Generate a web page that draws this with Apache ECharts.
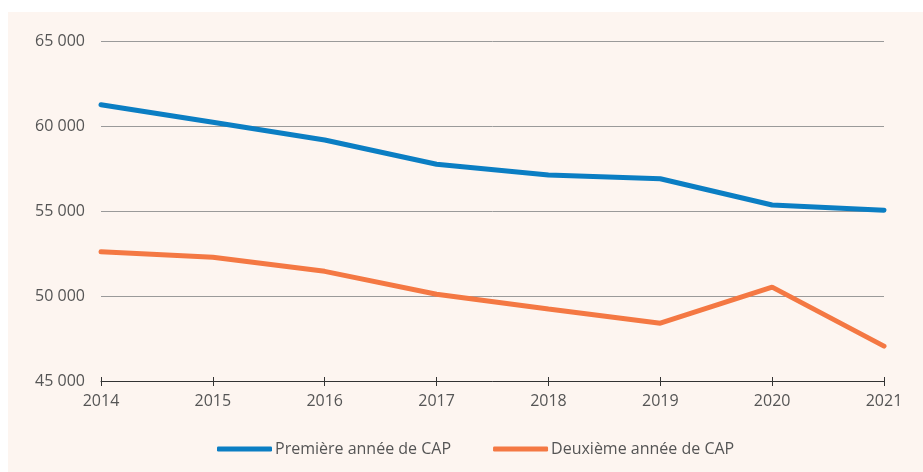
<!DOCTYPE html>
<html>
<head>
<meta charset="utf-8">
<script src="https://cdn.jsdelivr.net/npm/echarts@6/dist/echarts.min.js"></script>
<style>
  html, body { margin: 0; padding: 0; background: #fff; }
  #chart {
    position: absolute;
    left: 8px;
    top: 12px;
    width: 915px;
    height: 460px;
    background: #fdf5f0;
  }
</style>
</head>
<body>
<div id="chart"></div>
<script>
const years = ["2014", "2015", "2016", "2017", "2018", "2019", "2020", "2021"];
const premiereAnnee = [61250, 60220, 59180, 57750, 57120, 56900, 55350, 55050];
const deuxiemeAnnee = [52600, 52280, 51450, 50100, 49230, 48400, 50520, 47050];
const yTicks = [45000, 50000, 55000, 60000, 65000];

const chart = echarts.init(document.getElementById("chart"));
const font = "'Open Sans', sans-serif";

const option = {
  textStyle: { fontFamily: font },
  grid: { left: 93, right: 39, top: 29, bottom: 91 },
  legend: {
    left: 204,
    top: 424,
    icon: "roundRect",
    itemWidth: 55,
    itemHeight: 5,
    itemGap: 42,
    textStyle: { color: "#555", fontSize: 16, fontFamily: font, padding: [0, 0, 0, -2] },
    data: ["Première année de CAP", "Deuxième année de CAP"],
  },
  xAxis: [
    {
      type: "category",
      data: years,
      boundaryGap: false,
      axisLine: { lineStyle: { color: "#333", width: 1 } },
      axisTick: { show: true, length: 5, lineStyle: { color: "#333" } },
      axisLabel: { color: "#555", fontSize: 16, margin: 12 },
    },
    {
      type: "category",
      data: years,
      boundaryGap: false,
      position: "bottom",
      axisLine: { show: false },
      axisTick: { show: true, inside: true, length: 4, lineStyle: { color: "#333" } },
      axisLabel: { show: false },
    },
  ],
  yAxis: {
    type: "value",
    min: yTicks[0],
    max: yTicks[yTicks.length - 1],
    interval: 5000,
    axisLine: { show: false },
    axisTick: { show: false },
    axisLabel: {
      color: "#555",
      fontSize: 16,
      margin: 16,
      formatter: (v) => String(v).replace(/\B(?=(\d{3})+(?!\d))/g, " "),
    },
    splitLine: { lineStyle: { color: "#9a9a9a", width: 1 } },
  },
  series: [
    {
      name: "Première année de CAP",
      type: "line",
      data: premiereAnnee,
      symbol: "none",
      lineStyle: { color: "#0b7ec3", width: 5, cap: "round" },
      itemStyle: { color: "#0b7ec3" },
    },
    {
      name: "Deuxième année de CAP",
      type: "line",
      data: deuxiemeAnnee,
      symbol: "none",
      lineStyle: { color: "#f47843", width: 5, cap: "round" },
      itemStyle: { color: "#f47843" },
    },
  ],
};

chart.setOption(option);
</script>
</body>
</html>
